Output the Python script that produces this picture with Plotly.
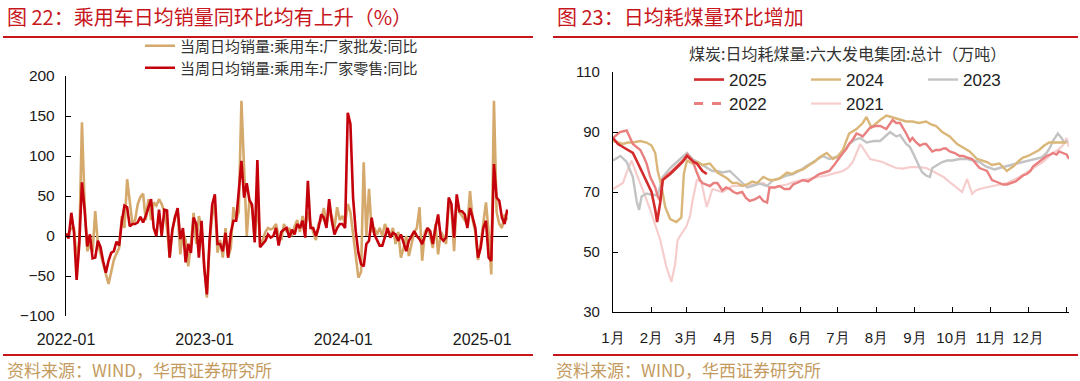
import plotly.graph_objects as go
import pandas as pd

W, H = 1080, 381
def px(x): return x / W
def py(y): return 1 - y / H

# ---------------- Left chart data (weekly, % YoY) ----------------
weeks = pd.date_range('2022-01-01', periods=167, freq='7D')
wholesale = [
    -2, 5, 10, 10, -30, -5, 142, 40, -19, -10,
    -20, 31, -10, -22, -35, -48, -60, -45, -30, -22,
    -15, 25, 10, 71, 40, 15, 20, 40, 49, 53,
    20, 46, 20, 42, 38, 46, 40, 30, 10, -27,
    5, 25, 30, -23, 5, -5, -38, -10, 29, -10,
    25, 10, -35, -77, -10, 25, 40, -21, -5, -27,
    10, -27, -15, 36, 20, 30, 169, 71, 0, 45,
    35, -5, 45, -10, -5, 5, 10, 8, 10, 15,
    0, -5, 15, 5, 10, 0, 12, 20, 5, 25,
    10, 30, 15, 5, -5, 15, 20, 35, 15, 30,
    25, 10, 36, 20, 25, 15, 40, 30, 5, -25,
    -52, -45, 92, 0, 59, 5, 10, 2, 10, 0,
    15, 5, 0, 10, -10, 5, -27, -15, 0, -25,
    -10, 5, 10, 36, -31, 5, 10, 0, -15, 15,
    -23, 5, 0, -10, 40, 35, -19, 45, 30, 25,
    20, 15, 56, 20, 5, -30, -10, 20, 42, 5,
    -48, 169, 30, 15, 10, 27, 20,
]
retail = [
    3, -3, 29, 5, -55, -10, 67, 33, -13, 2,
    -28, -27, -6, -14, -32, -46, -31, -21, -19, -7,
    -12, 18, 38, 36, 12, 15, 15, 17, 24, 17,
    25, 35, 46, 10, 0, 33, 0, 33, 32, -27,
    8, 23, 35, -4, 10, -33, -10, -21, 23, 15,
    -27, 19, -40, -73, -6, 39, 52, -10, -10, -19,
    4, -27, 4, 19, 19, 56, 94, 48, 66, 45,
    39, -8, 95, -14, -10, -6, 2, -2, 0, 10,
    -12, 5, 8, 10, -2, 8, 2, 15, 10, 19,
    -2, 69, 10, 10, 0, 10, 27, 23, 10, 46,
    19, 2, 10, 15, 15, 10, 154, 140, 48, 6,
    -21, -35, -38, -10, -6, 23, 2, -6, -12, -12,
    -2, 10, -2, 4, 2, -6, 2, -10, -19, -6,
    0, 6, 0, -4, -10, 0, 10, 6, -10, 10,
    27, -2, -6, -2, 48, 40, -2, 52, 31, 31,
    27, 10, 35, 23, 10, -27, -15, 10, 19, -27,
    -31, 90, 48, 44, 23, 15, 33,
]
left_names = ['当周日均销量:乘用车:厂家批发:同比', '当周日均销量:乘用车:厂家零售:同比']
left_tickvals = ['2022-01-01', '2023-01-01', '2024-01-01', '2025-01-01']
left_ticktext = ['2022-01', '2023-01', '2024-01', '2025-01']
left_yticks = [-100, -50, 0, 50, 100, 150, 200]

# ---------------- Right chart data (day of year, 万吨) ----------------
d2025 = [0, 4, 8, 12, 16, 19, 23, 27, 31, 34, 35.5, 38, 40, 43, 46, 51, 56, 59.5, 62, 65, 67.5, 72, 75.5]
v2025 = [88, 86, 85, 84, 83, 80.5, 77, 74, 70, 64, 60, 66.5, 74, 75, 76, 78, 80, 82, 81, 80, 79.5, 77, 76]

d2024 = [0, 4, 8, 12, 16, 22, 27, 31, 34, 36, 39, 42, 46, 51, 55, 57, 59.5, 64, 68, 72, 78, 84, 88, 92, 96,
         100, 104, 108, 112, 116, 121, 126, 130, 134, 140, 144, 148, 153, 158, 162, 166, 172, 177, 181, 185,
         190, 196, 201, 204, 208, 215, 220, 224, 228, 232, 236, 241, 246, 252, 256, 260, 265, 271, 277, 281,
         287, 293, 297, 301, 305, 311, 317, 322, 327, 330, 334, 338, 343, 347, 351, 355, 359, 365]
v2024 = [87, 86.5, 86, 86.5, 86.5, 87, 86.5, 85.5, 83, 77, 72, 65, 61, 60, 61.5, 76, 80.5, 79.5, 80, 79, 79.5,
         76.5, 75.5, 74.5, 73, 73, 72, 72.5, 73.5, 73, 75, 74, 74, 74.5, 76.5, 76, 77, 77.5, 79, 80, 81.5, 83,
         81, 82, 84, 89.5, 91, 93, 95, 91.5, 94, 95.5, 95, 94.5, 94, 93.5, 93.5, 93, 93.5, 92.5, 92, 90, 88.5,
         86, 85, 83.5, 81, 80.5, 80, 79, 79.5, 77, 78.5, 80.5, 81.5, 82, 83, 84, 85.5, 86.5, 86.5, 86.5, 86.5]

d2023 = [0, 6, 11, 16, 19, 21, 23, 27, 32, 36, 40, 46, 50, 54, 59.5, 64, 68, 72, 76, 80, 84, 88, 94, 100,
         104, 108, 112, 118, 124, 129, 134, 140, 145, 150, 155, 161, 165, 169, 174, 178, 182, 186, 190, 195,
         199, 204, 210, 215, 219, 223, 228, 231, 236, 239, 242, 244, 247, 249, 252, 255, 257, 261, 265, 269,
         273, 279, 285, 290, 295, 300, 303, 307, 311, 315, 319, 325, 330, 336, 341, 345, 349, 352, 354, 358,
         361, 363, 366]
v2023 = [80.5, 82, 80, 75, 67, 64, 68.5, 69.5, 69, 69, 75, 78, 79.5, 81, 83, 81, 80, 79, 78, 77, 77, 76.5,
         77, 74.5, 73, 71.5, 72, 72.8, 72, 74, 74.5, 75.5, 76, 77, 78.5, 80, 81, 82, 81, 81.5, 81.5, 83.5, 86,
         87.5, 88, 86.5, 87, 87, 88.5, 90, 88.5, 89, 86, 85, 82.5, 80.5, 78, 76.5, 75.5, 75, 78, 79, 80, 80.5,
         80.5, 81, 81, 80.5, 80, 78.5, 78, 77.5, 78, 78.5, 79, 79.5, 80, 80.5, 81, 81.5, 83, 85, 87, 89.5, 88,
         86.5, 87]

d2022 = [0, 3, 5.6, 11, 14, 16, 19, 22, 25, 27, 30, 32, 34, 36, 38, 40, 43, 46, 51, 56, 60, 64, 67, 70, 72,
         75, 78, 81, 84, 88, 91, 94, 97, 100, 104, 107, 110, 114, 118, 121, 124, 126, 130, 134, 138, 142, 145,
         148, 153, 157, 161, 166, 170, 174, 178, 182, 185, 188, 190, 193, 196, 199, 201, 204, 207, 211, 215,
         220, 225, 228, 231, 236, 239, 241, 244, 247, 250, 252, 255, 257, 260, 263, 266, 268, 271, 275, 279,
         282, 285, 289, 292, 295, 298, 301, 303, 305, 308, 311, 314, 317, 321, 324, 327, 330, 333, 336, 338,
         341, 343, 346, 349, 352, 354, 357, 359, 362, 365, 367]
v2022 = [88, 89, 90, 90.5, 88, 86, 85, 84, 81.5, 79.5, 75, 73, 71.5, 68.5, 67, 74, 75.5, 76.5, 78.5, 80.5,
         82.5, 80.5, 77, 74, 73, 72.5, 72, 73, 73, 70.5, 71.5, 71, 70, 69.5, 70, 68, 67, 67.5, 68.5, 67, 66.5,
         71.5, 71.5, 72, 71, 71, 72.5, 73, 74, 73.5, 74.5, 76, 76.5, 77, 79, 81.5, 83, 84.5, 86, 87.5, 89.5,
         89, 88.5, 90, 91.5, 92, 92, 91, 94, 93, 93, 89.5, 87, 88, 86.5, 85.5, 86, 86, 84.5, 83.5, 84, 84,
         84.5, 84.5, 83.5, 83, 82, 82, 81.5, 81, 79.5, 78, 77.5, 77, 75.5, 74, 73.5, 73, 72.5, 72.5, 73, 73.5,
         74.5, 75.5, 76, 77, 78.5, 79.5, 80, 81, 82, 82.5, 83, 82.5, 83.5, 83, 82.5, 81]

d2021 = [0, 4, 8, 11, 14, 15, 18, 22, 26, 30, 34, 38, 43, 47, 50, 52, 55, 59, 62, 64, 67.5, 71, 75.5, 80,
         84, 88, 92, 96, 102, 108, 114, 121, 126, 130, 134, 140, 145, 152, 158, 165, 172, 178, 185, 189, 193,
         196, 199, 203, 207, 212, 217, 222, 228, 233, 239, 247, 252, 257, 261, 266, 271, 276, 281, 285, 289,
         292, 295, 300, 305, 311, 317, 322, 327, 333, 338, 342, 346, 350, 354, 358, 362, 364, 365, 367]
v2021 = [71, 72, 73, 76.5, 79.5, 80.5, 77, 73, 68.5, 64, 59, 54, 45, 40, 46, 54, 56, 58.5, 62, 67, 74, 73.5,
         65, 71, 70.5, 70, 71, 72, 72, 72.5, 72.5, 73, 71.5, 71.5, 72, 72.5, 73.3, 74, 74.4, 75, 75.5, 76.2, 77,
         78, 80, 83, 86, 83.5, 81, 80.5, 80, 79, 78, 77.8, 78.3, 78.3, 78, 77, 76, 75, 73.3, 71.5, 70, 74.4,
         69.4, 70.5, 71, 71.5, 72, 72.5, 73, 74, 75, 76.5, 78, 79, 80, 81.5, 83, 84, 85.5, 87, 88, 85]

month_starts = [0, 31, 59, 90, 120, 151, 181, 212, 243, 273, 304, 334, 365]
month_labels = ['1月', '2月', '3月', '4月', '5月', '6月', '7月', '8月', '9月', '10月', '11月', '12月', '']
right_yticks = [30, 50, 70, 90, 110]

RED_T = '#c8161d'
SRC = '#c49b5e'
CJK = 'Noto Sans CJK SC'
LAT = 'Liberation Sans, Arial'

fig = go.Figure()

# Left traces (each legend row is its own legend so the rows sit where the reference has them)
fig.add_trace(go.Scatter(x=weeks, y=wholesale, mode='lines', name=left_names[0],
                         line=dict(color='#d5a96c', width=2.6), xaxis='x', yaxis='y', legend='legend'))
fig.add_trace(go.Scatter(x=weeks, y=retail, mode='lines', name=left_names[1],
                         line=dict(color='#c4000b', width=2.6), xaxis='x', yaxis='y', legend='legend4'))

# Right traces (draw order bottom -> top)
fig.add_trace(go.Scatter(x=d2021, y=v2021, mode='lines', name='2021', line=dict(color='#f6cdcd', width=2.2),
                         xaxis='x2', yaxis='y2', legend='legend3', legendrank=2))
fig.add_trace(go.Scatter(x=d2023, y=v2023, mode='lines', name='2023', line=dict(color='#c3c3c3', width=2.4),
                         xaxis='x2', yaxis='y2', legend='legend2', legendrank=3))
fig.add_trace(go.Scatter(x=d2024, y=v2024, mode='lines', name='2024', line=dict(color='#dab679', width=2.4),
                         xaxis='x2', yaxis='y2', legend='legend2', legendrank=2))
fig.add_trace(go.Scatter(x=d2022, y=v2022, mode='lines', name='2022', line=dict(color='#e97f7f', width=2.4),
                         xaxis='x2', yaxis='y2', showlegend=False, legendgroup='y2022'))
fig.add_trace(go.Scatter(x=[None], y=[None], mode='lines', name='2022',
                         line=dict(color='#e97f7f', width=3, dash='dash'),
                         xaxis='x2', yaxis='y2', legend='legend3', legendrank=1, legendgroup='y2022'))
fig.add_trace(go.Scatter(x=d2025, y=v2025, mode='lines', name='2025', line=dict(color='#d32a2c', width=2.6),
                         xaxis='x2', yaxis='y2', legend='legend2', legendrank=1))

# Domains
ly = [py(316), py(76)]
ry = [py(312), py(72)]
zero_pos = ly[0] + (0 - (-100)) / 300 * (ly[1] - ly[0])

tickfont_l = dict(family=LAT, size=16, color='#1a1a1a')
tickfont_r = dict(family=LAT, size=15, color='#1a1a1a')

leg_common_l = dict(xanchor='left', yanchor='middle', orientation='v',
                    font=dict(family=CJK, size=15, color='#333333'), bgcolor='rgba(0,0,0,0)',
                    tracegroupgap=0)
leg_common_r = dict(xanchor='left', yanchor='middle', orientation='h',
                    font=dict(family=LAT, size=17, color='#222222'), bgcolor='rgba(0,0,0,0)',
                    entrywidth=72, traceorder='normal')

fig.update_layout(
    width=W, height=H,
    margin=dict(l=0, r=0, t=0, b=0),
    paper_bgcolor='white', plot_bgcolor='white',
    showlegend=True,
    xaxis=dict(domain=[px(66), px(508)], type='date', range=['2022-01-01', '2025-03-10'], anchor='y',
               showline=False, ticks='', tickvals=left_tickvals, ticktext=left_ticktext,
               showgrid=False, zeroline=False, tickfont=tickfont_l, ticklabelstandoff=12, automargin=False),
    xaxis3=dict(overlaying='x', matches='x', anchor='free', position=zero_pos, ticks='inside', ticklen=5,
                tickcolor='black', tickwidth=1.2, tickvals=left_tickvals, showticklabels=False,
                showline=False, showgrid=False, zeroline=False, automargin=False),
    yaxis=dict(domain=ly, range=[-100, 200], anchor='x', showline=True, linecolor='black', linewidth=1.3,
               ticks='inside', ticklen=5, tickcolor='black', tickwidth=1.2, tickvals=left_yticks,
               showgrid=False, zeroline=True, zerolinecolor='black', zerolinewidth=1.3,
               tickfont=dict(family=LAT, size=15.5, color='#1a1a1a'), ticklabelstandoff=7, automargin=False),
    xaxis2=dict(domain=[px(613), px(1069)], range=[0, 367], anchor='y2', showline=True, linecolor='black',
                linewidth=1.3, ticks='inside', ticklen=5, tickcolor='black', tickwidth=1.2,
                tickvals=month_starts, ticktext=month_labels, showgrid=False, zeroline=False,
                tickfont=tickfont_r, ticklabelstandoff=12, automargin=False),
    yaxis2=dict(domain=ry, range=[30, 110], anchor='x2', showline=True, linecolor='black', linewidth=1.3,
                ticks='inside', ticklen=5, tickcolor='black', tickwidth=1.2, tickvals=right_yticks,
                showgrid=False, zeroline=False, tickfont=tickfont_r, ticklabelstandoff=9, automargin=False),
    legend=dict(x=px(140), y=py(46), **leg_common_l),
    legend4=dict(x=px(140), y=py(68), **leg_common_l),
    legend2=dict(x=px(689), y=py(80), **leg_common_r),
    legend3=dict(x=px(689), y=py(104), **leg_common_r),
)

annotations = [
    dict(text='图 22：乘用车日均销量同环比均有上升（%）', x=px(5), y=py(17), xanchor='left', yanchor='middle',
         font=dict(family=CJK, size=20, color=RED_T)),
    dict(text='图 23：日均耗煤量环比增加', x=px(555), y=py(17), xanchor='left', yanchor='middle',
         font=dict(family=CJK, size=20, color=RED_T)),
    dict(text='资料来源：WIND，华西证券研究所', x=px(5), y=py(369), xanchor='left', yanchor='middle',
         font=dict(family=CJK, size=17, color=SRC)),
    dict(text='资料来源：WIND，华西证券研究所', x=px(554), y=py(369), xanchor='left', yanchor='middle',
         font=dict(family=CJK, size=17, color=SRC)),
    dict(text='煤炭:日均耗煤量:六大发电集团:总计（万吨）', x=px(847), y=py(53), xanchor='center', yanchor='middle',
         font=dict(family=CJK, size=16, color='#333333')),
]
for a in annotations:
    a.update(xref='paper', yref='paper', showarrow=False)
fig.update_layout(annotations=annotations)

shapes = []
for (x0, x1) in [(3, 533), (553, 1078)]:
    for yy in (37, 355):
        shapes.append(dict(type='line', xref='paper', yref='paper', x0=px(x0), x1=px(x1), y0=py(yy), y1=py(yy),
                           line=dict(color=RED_T, width=2)))
fig.update_layout(shapes=shapes)

fig.write_html('out.html', config={'displayModeBar': False},
               post_script="document.body.style.margin='0';document.body.style.overflow='hidden';")
